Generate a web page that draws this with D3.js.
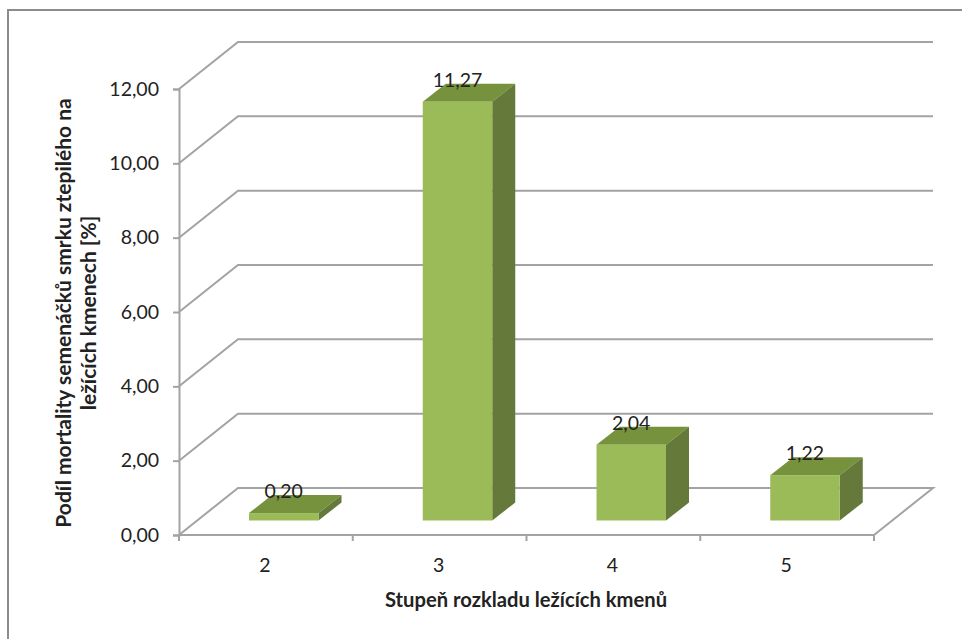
<!DOCTYPE html>
<html>
<head>
<meta charset="utf-8">
<script src="https://cdn.jsdelivr.net/npm/d3@7"></script>
<style>
html,body{margin:0;padding:0;background:#fff;overflow:hidden}
svg{display:block}
text{font-family:Lato,"Open Sans",sans-serif;fill:#222}
</style>
</head>
<body>
<svg id="chart" width="962" height="639"></svg>
<script>
const categories = ["2", "3", "4", "5"];
const values = [0.20, 11.27, 2.04, 1.22];
const valueTicks = [0, 2, 4, 6, 8, 10, 12];
const xTitle = "Stupeň rozkladu ležících kmenů";
const yTitleLines = ["Podíl mortality semenáčků smrku ztepilého na", "ležících kmenech [%]"];

const fmt = v => v.toFixed(2).replace(".", ",");

const plotLeft = 179, plotRight = 874, plotBottom = 535, plotTop = 89;
const wallDx = 59, wallDy = -47;      // oblique offset of the back wall
const barDx = 23, barDy = -18;        // depth of each column
const barLift = 14.5, barShift = 0.5; // columns stand part-way into the floor

const svg = d3.select("#chart");

const x = d3.scaleBand().domain(categories).range([plotLeft, plotRight]);
const y = d3.scaleLinear().domain([0, 12]).range([plotBottom, plotTop]);
const barWidth = x.bandwidth() * 0.4;

// chart frame: only the top and left edges fall inside the page
svg.append("path")
  .attr("d", "M962,10H8V639")
  .attr("fill", "none").attr("stroke", "#8c8c8c").attr("stroke-width", 2);

const gridColor = "#a3a3a3";
const grid = svg.append("g").attr("fill", "none").attr("stroke", gridColor).attr("stroke-width", 2);

// side wall diagonal and back wall line for every tick
grid.selectAll("path").data(valueTicks).join("path")
  .attr("d", v => {
    const p = d3.path();
    p.moveTo(plotLeft, y(v));
    p.lineTo(plotLeft + wallDx, y(v) + wallDy);
    p.lineTo(plotRight + wallDx, y(v) + wallDy);
    if (v === 0) p.lineTo(plotRight, y(v));
    return p.toString();
  });

// value axis
const yAxis = svg.append("g").attr("transform", `translate(${plotLeft},0)`)
  .call(d3.axisLeft(y).tickValues(valueTicks).tickFormat(fmt).tickSize(6).tickPadding(14));
yAxis.select(".domain").attr("stroke", gridColor).attr("stroke-width", 2);
yAxis.selectAll("line").attr("stroke", gridColor).attr("stroke-width", 2);
yAxis.selectAll("text").attr("font-size", 19.5).attr("fill", "#222");

// category axis, ticks sit on band edges
const xAxisG = svg.append("g").attr("stroke", gridColor).attr("stroke-width", 2);
xAxisG.append("line").attr("x1", plotLeft).attr("x2", plotRight).attr("y1", plotBottom).attr("y2", plotBottom);
const edges = categories.map(c => x(c)).concat([plotRight]);
xAxisG.selectAll(".edge").data(edges).join("line").attr("class", "edge")
  .attr("x1", d => d).attr("x2", d => d).attr("y1", plotBottom).attr("y2", plotBottom + 6);

svg.append("g").selectAll("text").data(categories).join("text")
  .attr("x", c => x(c) + x.bandwidth() / 2 - 1)
  .attr("y", 572).attr("text-anchor", "middle").attr("font-size", 19.5)
  .text(c => c);

// columns
const bars = svg.append("g").selectAll("g").data(categories).join("g");
const bx = c => x(c) + x.bandwidth() * 0.4 + barShift;
const by = v => y(v) - barLift;
const by0 = y(0) - barLift;

bars.append("path").attr("fill", "#76923c")
  .attr("d", (c, i) => {
    const x0 = bx(c), yt = by(values[i]);
    return `M${x0},${yt}L${x0 + barDx},${yt + barDy}L${x0 + barWidth + barDx},${yt + barDy}L${x0 + barWidth},${yt}Z`;
  });
bars.append("path").attr("fill", "#64793a")
  .attr("d", (c, i) => {
    const x0 = bx(c) + barWidth, yt = by(values[i]);
    return `M${x0},${yt}L${x0 + barDx},${yt + barDy}L${x0 + barDx},${by0 + barDy}L${x0},${by0}Z`;
  });
bars.append("rect").attr("fill", "#9bbb59")
  .attr("x", c => bx(c)).attr("width", barWidth)
  .attr("y", (c, i) => by(values[i])).attr("height", (c, i) => by0 - by(values[i]));

// value labels above each column
bars.append("text")
  .attr("x", c => bx(c) + barWidth / 2)
  .attr("y", (c, i) => by(values[i]) - 15)
  .attr("text-anchor", "middle").attr("font-size", 19.5)
  .text((c, i) => fmt(values[i]));

// axis titles
svg.append("text").attr("x", 526).attr("y", 606.5)
  .attr("text-anchor", "middle").attr("font-size", 20.2).attr("font-weight", 700)
  .text(xTitle);

const yTitle = svg.append("text")
  .attr("transform", "translate(0,313) rotate(-90)")
  .attr("text-anchor", "middle").attr("font-size", 21).attr("font-weight", 700);
yTitle.selectAll("tspan").data(yTitleLines).join("tspan")
  .attr("x", 0).attr("y", (d, i) => 70.5 + i * 25.5)
  .text(d => d);
</script>
</body>
</html>
